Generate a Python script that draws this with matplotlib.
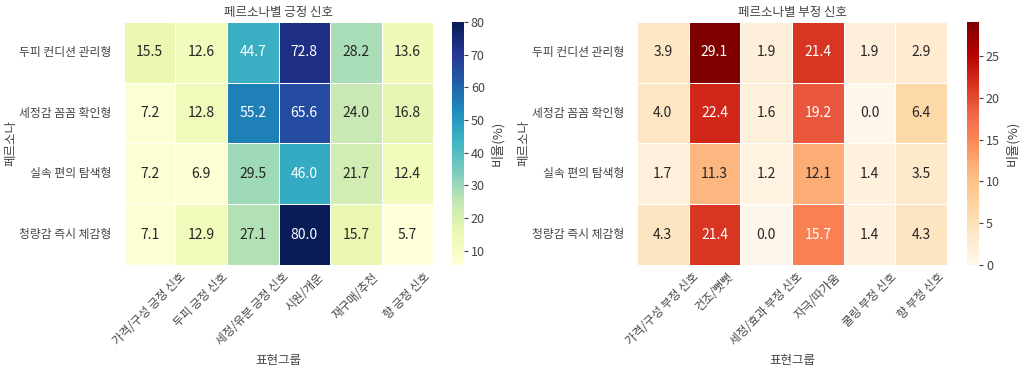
import matplotlib
matplotlib.use("Agg")
import matplotlib.pyplot as plt
import seaborn as sns
import numpy as np
import pandas as pd

sns.set_style("white")
plt.rcParams['font.family'] = ['Noto Sans CJK KR', 'DejaVu Sans']
plt.rcParams['axes.unicode_minus'] = False

personas = ["두피 컨디션 관리형", "세정감 꼼꼼 확인형", "실속 편의 탐색형", "청량감 즉시 체감형"]

pos_groups = ["가격/구성 긍정 신호", "두피 긍정 신호", "세정/유분 긍정 신호", "시원/개운", "재구매/추천", "향 긍정 신호"]
pos_values = [
    [15.5, 12.6, 44.7, 72.8, 28.2, 13.6],
    [7.2, 12.8, 55.2, 65.6, 24.0, 16.8],
    [7.2, 6.9, 29.5, 46.0, 21.7, 12.4],
    [7.1, 12.9, 27.1, 80.0, 15.7, 5.7],
]

neg_groups = ["가격/구성 부정 신호", "건조/뻣뻣", "세정/효과 부정 신호", "자극/따가움", "쿨링 부정 신호", "향 부정 신호"]
neg_values = [
    [3.9, 29.1, 1.9, 21.4, 1.9, 2.9],
    [4.0, 22.4, 1.6, 19.2, 0.0, 6.4],
    [1.7, 11.3, 1.2, 12.1, 1.4, 3.5],
    [4.3, 21.4, 0.0, 15.7, 1.4, 4.3],
]

fig = plt.figure(figsize=(10.24, 3.71), dpi=100)
ax1 = fig.add_axes([0.121, 0.286, 0.302, 0.655])
cax1 = fig.add_axes([0.441, 0.286, 0.012, 0.655])
ax2 = fig.add_axes([0.622, 0.286, 0.303, 0.655])
cax2 = fig.add_axes([0.944, 0.286, 0.012, 0.655])

tc = "#444444"

def draw(ax, cax, vals, groups, cmap, title):
    df = pd.DataFrame(vals, index=personas, columns=groups)
    sns.heatmap(df, ax=ax, cbar_ax=cax, cmap=cmap, annot=True, fmt=".1f",
                linewidths=0.5, linecolor="white",
                annot_kws={"fontsize": 10},
                cbar_kws={"label": "비율(%)"})
    ax.set_title(title, fontsize=9, color=tc, pad=4)
    ax.set_xlabel("표현그룹", fontsize=9, color=tc)
    ax.set_ylabel("페르소나", fontsize=9, color=tc, labelpad=1)
    ax.set_xticklabels(ax.get_xticklabels(), rotation=45, ha="center",
                       fontsize=8.5, color=tc)
    ax.set_yticklabels(ax.get_yticklabels(), rotation=0, fontsize=8.5, color=tc)
    ax.tick_params(axis="x", length=0, pad=4)
    ax.tick_params(axis="y", length=0, pad=9)
    cax.tick_params(axis="y", length=3, width=0.8, colors=tc, labelsize=9, pad=2)
    cax.yaxis.label.set_size(9.5)
    cax.yaxis.label.set_color(tc)

draw(ax1, cax1, pos_values, pos_groups, "YlGnBu", "페르소나별 긍정 신호")
draw(ax2, cax2, neg_values, neg_groups, "OrRd", "페르소나별 부정 신호")

fig.savefig("out.png", dpi=100)
